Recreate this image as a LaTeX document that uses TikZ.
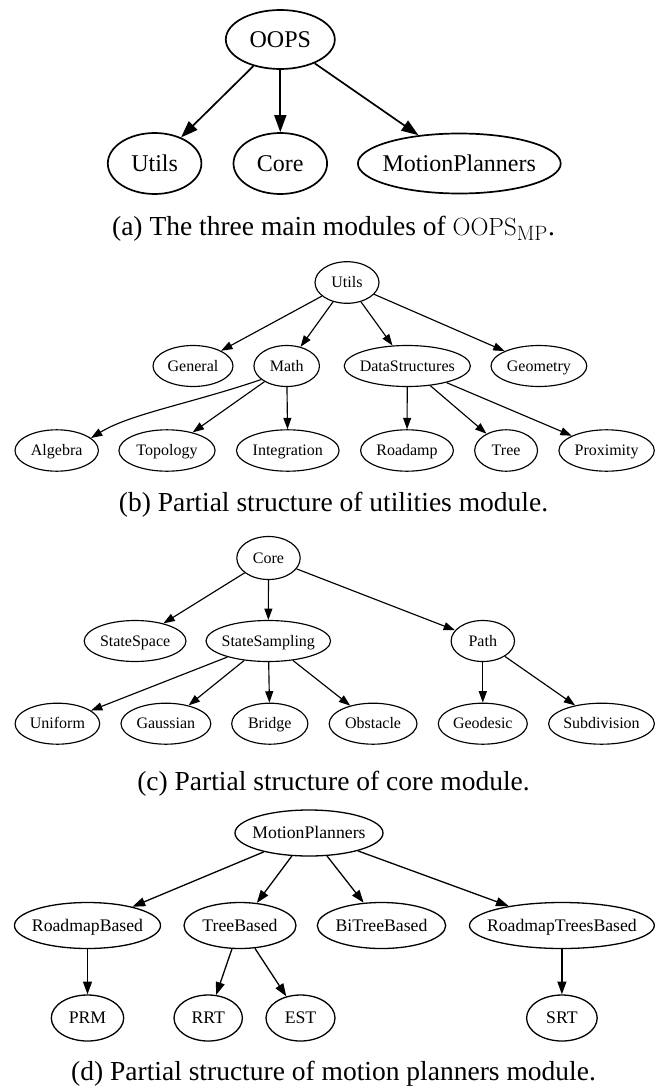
\documentclass[tikz,border=0pt]{standalone}
\usepackage[no-math]{fontspec}
\setmainfont{Liberation Serif}
\usetikzlibrary{arrows.meta,shapes.geometric}
\tikzset{
  nd/.style={draw, ellipse, inner sep=0pt, anchor=center},
  ndA/.style={nd, line width=1.7pt, font=\fontsize{24}{28}\selectfont},
  ndB/.style={nd, line width=1.15pt, font=\fontsize{16}{19}\selectfont},
  ndD/.style={nd, line width=1.3pt, font=\fontsize{17.7}{21}\selectfont},
  edA/.style={line width=1.7pt, -{Triangle[length=17pt,width=12pt]}},
  edB/.style={line width=1.15pt, -{Triangle[length=11.4pt,width=8pt]}},
  edD/.style={line width=1.3pt, -{Triangle[length=12.8pt,width=9pt]}},
  captext/.style={anchor=base, font=\fontsize{27.5}{32}\selectfont, inner sep=0pt}
}
\newcommand{\tx}[1]{\makebox[0pt]{\rule{0pt}{0.66em}\smash{#1}}}
\begin{document}
\begin{tikzpicture}[x=1pt,y=-1pt]
\useasboundingbox (0,0) rectangle (667,1089);
% ---------- (a)
\node[ndA, minimum width=109pt, minimum height=59pt] (oops) at (280.3,39.5) {\tx{OOPS}};
\node[ndA, minimum width=93.6pt, minimum height=61pt] (au) at (154.6,163.5) {\tx{Utils}};
\node[ndA, minimum width=93.6pt, minimum height=61pt] (ac) at (280.3,163.5) {\tx{Core}};
\node[ndA, minimum width=202.8pt, minimum height=60pt] (am) at (459.3,163.5) {\tx{MotionPlanners}};
\draw[edA] (oops) -- (au);
\draw[edA] (oops) -- (ac);
\draw[edA] (oops) -- (am);
\node[captext] (capa) at (333.5,235) {(a) The three main modules of $\mathrm{OOPS}_{\mathrm{MP}}$.};
% ---------- (b)
\node[ndB, minimum width=64pt, minimum height=41.6pt] (bu) at (347,282.5) {\tx{Utils}};
\node[ndB, minimum width=80pt, minimum height=41pt] (bg) at (193,366) {\tx{General}};
\node[ndB, minimum width=65.5pt, minimum height=41pt] (bm) at (286.7,366) {\tx{Math}};
\node[ndB, minimum width=126.2pt, minimum height=41pt] (bds) at (407.3,366) {\tx{DataStructures}};
\node[ndB, minimum width=95.8pt, minimum height=41pt] (bgeo) at (538.9,366) {\tx{Geometry}};
\node[ndB, minimum width=83.4pt, minimum height=41.4pt] (balg) at (56.7,450.5) {\tx{Algebra}};
\node[ndB, minimum width=96.2pt, minimum height=41.4pt] (btop) at (167,450.5) {\tx{Topology}};
\node[ndB, minimum width=102.6pt, minimum height=41.4pt] (bint) at (287.8,450.5) {\tx{Integration}};
\node[ndB, minimum width=92.8pt, minimum height=41.4pt] (broad) at (407,450.5) {\tx{Roadamp}};
\node[ndB, minimum width=62.8pt, minimum height=41.4pt] (btree) at (506.1,450.5) {\tx{Tree}};
\node[ndB, minimum width=95.4pt, minimum height=41.4pt] (bprox) at (606.6,450.5) {\tx{Proximity}};
\draw[edB] (bu) -- (bg);
\draw[edB] (bu) -- (bm);
\draw[edB] (bu) -- (bds);
\draw[edB] (bu) -- (bgeo);
\draw[edB] (bm.208) .. controls (189,404) and (130,414) .. (balg.20);
\draw[edB] (bm) -- (btop);
\draw[edB] (bm) -- (bint);
\draw[edB] (bds) -- (broad);
\draw[edB] (bds) -- (btree);
\draw[edB] (bds) -- (bprox);
\node[captext] (capb) at (333.5,511.7) {(b) Partial structure of utilities module.};
% ---------- (c)
\node[ndB, minimum width=63.4pt, minimum height=43pt] (cc) at (268.5,558) {\tx{Core}};
\node[ndB, minimum width=101.8pt, minimum height=41pt] (css) at (135.1,641) {\tx{StateSpace}};
\node[ndB, minimum width=124.6pt, minimum height=41pt] (csam) at (268.3,641) {\tx{StateSampling}};
\node[ndB, minimum width=63.4pt, minimum height=41pt] (cpath) at (482.8,641) {\tx{Path}};
\node[ndB, minimum width=84.6pt, minimum height=41pt] (cuni) at (57.4,723.7) {\tx{Uniform}};
\node[ndB, minimum width=89.8pt, minimum height=41pt] (cgau) at (165.9,723.7) {\tx{Gaussian}};
\node[ndB, minimum width=76.2pt, minimum height=41pt] (cbri) at (269.8,723.7) {\tx{Bridge}};
\node[ndB, minimum width=87.8pt, minimum height=41pt] (cobs) at (373.1,723.7) {\tx{Obstacle}};
\node[ndB, minimum width=89pt, minimum height=41pt] (cgeo) at (482.8,723.7) {\tx{Geodesic}};
\node[ndB, minimum width=105.8pt, minimum height=41pt] (csub) at (601.5,723.7) {\tx{Subdivision}};
\draw[edB] (cc) -- (css);
\draw[edB] (cc) -- (csam);
\draw[edB] (cc) -- (cpath);
\draw[edB] (csam) -- (cuni);
\draw[edB] (csam) -- (cgau);
\draw[edB] (csam) -- (cbri);
\draw[edB] (csam) -- (cobs);
\draw[edB] (cpath) -- (cgeo);
\draw[edB] (cpath) -- (csub);
\node[captext] (capc) at (333.5,790) {(c) Partial structure of core module.};
% ---------- (d)
\node[ndD, minimum width=148pt, minimum height=46pt] (dmp) at (309,833) {\tx{MotionPlanners}};
\node[ndD, minimum width=146pt, minimum height=46pt] (drb) at (87.5,925.5) {\tx{RoadmapBased}};
\node[ndD, minimum width=112pt, minimum height=46pt] (dtb) at (240,925.5) {\tx{TreeBased}};
\node[ndD, minimum width=128.4pt, minimum height=46pt] (dbt) at (381.5,925.5) {\tx{BiTreeBased}};
\node[ndD, minimum width=184.8pt, minimum height=46pt] (drtb) at (561.9,925.5) {\tx{RoadmapTreesBased}};
\node[ndD, minimum width=72.4pt, minimum height=46pt] (dprm) at (87.5,1018) {\tx{PRM}};
\node[ndD, minimum width=68.4pt, minimum height=46pt] (drrt) at (208.2,1018) {\tx{RRT}};
\node[ndD, minimum width=69pt, minimum height=46pt] (dest) at (300.5,1018) {\tx{EST}};
\node[ndD, minimum width=70.6pt, minimum height=46pt] (dsrt) at (561.9,1018) {\tx{SRT}};
\draw[edD] (dmp) -- (drb);
\draw[edD] (dmp) -- (dtb);
\draw[edD] (dmp) -- (dbt);
\draw[edD] (dmp) -- (drtb);
\draw[edD] (drb) -- (dprm);
\draw[edD] (dtb) -- (drrt);
\draw[edD] (dtb) -- (dest);
\draw[edD] (drtb) -- (dsrt);
\node[captext] (capd) at (333.5,1080) {(d) Partial structure of motion planners module.};
\end{tikzpicture}
\end{document}
